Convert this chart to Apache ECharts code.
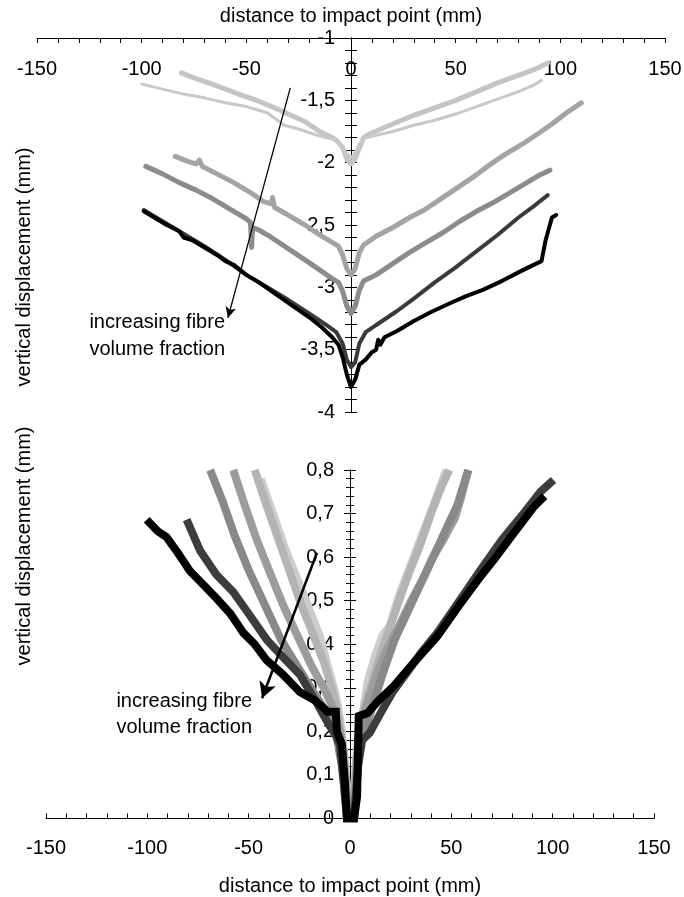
<!DOCTYPE html>
<html>
<head>
<meta charset="utf-8">
<script src="https://cdn.jsdelivr.net/npm/echarts@6/dist/echarts.min.js"></script>
<style>
  html, body { margin: 0; padding: 0; background: #fff; }
  #chart { width: 684px; height: 897px; }
</style>
</head>
<body>
<div id="chart"></div>
<script>
// top panel: vertical displacement (negative), [distance, displacement]
var topLight = [[-81,-1.28],[-75,-1.32],[-68,-1.36],[-60,-1.41],[-52,-1.46],[-45,-1.50],[-38,-1.55],[-30,-1.61],[-22,-1.67],[-15,-1.75],[-10,-1.79],[-7,-1.82],[-4,-1.88],[-2,-1.97],[0,-2.01],[2,-1.97],[4,-1.88],[6,-1.80],[10,-1.76],[20,-1.69],[30,-1.62],[40,-1.56],[50,-1.50],[60,-1.43],[70,-1.36],[80,-1.30],[88,-1.25],[94,-1.20]];
var topLightThin = [[-100,-1.37],[-90,-1.41],[-80,-1.45],[-70,-1.48],[-60,-1.52],[-50,-1.55],[-40,-1.60],[-32,-1.70],[-25,-1.73],[-18,-1.77],[-12,-1.80],[-8,-1.81],[-5,-1.86],[-2,-1.93],[0,-1.96],[2,-1.92],[4,-1.85],[7,-1.80],[12,-1.78],[20,-1.75],[30,-1.70],[40,-1.66],[50,-1.61],[60,-1.55],[70,-1.49],[80,-1.43],[87,-1.38],[91,-1.34]];
var topMid1 = [[-84,-1.95],[-78,-1.99],[-74,-2.01],[-72.5,-1.98],[-71,-2.03],[-64,-2.09],[-56,-2.16],[-48,-2.24],[-42,-2.31],[-38,-2.33],[-37.5,-2.28],[-36.5,-2.36],[-30,-2.42],[-22,-2.50],[-15,-2.58],[-10,-2.63],[-6,-2.67],[-4,-2.74],[-2,-2.85],[0,-2.90],[2,-2.85],[4,-2.72],[6,-2.66],[12,-2.59],[20,-2.52],[28,-2.44],[35,-2.38],[42,-2.30],[50,-2.21],[58,-2.12],[66,-2.02],[74,-1.93],[82,-1.85],[90,-1.76],[96,-1.69],[103,-1.60],[110,-1.52]];
var topMid2 = [[-98,-2.03],[-90,-2.09],[-82,-2.16],[-74,-2.22],[-66,-2.29],[-58,-2.37],[-50,-2.45],[-48,-2.48],[-47.5,-2.68],[-47,-2.52],[-44,-2.54],[-38,-2.60],[-30,-2.69],[-22,-2.78],[-15,-2.86],[-9,-2.93],[-6,-2.96],[-4,-3.03],[-2,-3.15],[0,-3.21],[2,-3.15],[4,-3.02],[6,-2.95],[12,-2.90],[20,-2.81],[28,-2.72],[36,-2.64],[44,-2.56],[52,-2.47],[60,-2.39],[68,-2.32],[76,-2.24],[84,-2.16],[90,-2.10],[95,-2.06]];
var topDark = [[-99,-2.38],[-90,-2.47],[-80,-2.57],[-70,-2.67],[-60,-2.78],[-50,-2.90],[-40,-3.00],[-30,-3.10],[-20,-3.21],[-12,-3.30],[-7,-3.36],[-4,-3.45],[-2,-3.58],[0,-3.64],[2,-3.60],[4,-3.45],[7,-3.36],[14,-3.28],[22,-3.19],[30,-3.09],[40,-2.96],[50,-2.84],[60,-2.71],[70,-2.58],[80,-2.44],[88,-2.34],[94,-2.26]];
var topBlack = [[-99,-2.39],[-94,-2.44],[-88,-2.50],[-82,-2.55],[-80,-2.60],[-76,-2.62],[-70,-2.68],[-64,-2.74],[-60,-2.79],[-56,-2.82],[-50,-2.90],[-44,-2.96],[-38,-3.03],[-32,-3.10],[-26,-3.17],[-20,-3.24],[-14,-3.32],[-9,-3.40],[-6,-3.46],[-4,-3.56],[-2,-3.70],[0,-3.80],[2,-3.74],[4,-3.62],[7,-3.58],[10,-3.52],[12,-3.50],[13,-3.42],[14,-3.46],[16,-3.40],[22,-3.35],[30,-3.27],[38,-3.20],[47,-3.13],[55,-3.07],[63,-3.02],[72,-2.95],[80,-2.88],[86,-2.83],[91,-2.79],[93,-2.62],[95,-2.50],[96,-2.44],[98,-2.42]];

// bottom panel: vertical displacement (positive)
var botLightest = [[-44,0.78],[-38,0.70],[-32,0.62],[-26,0.55],[-20,0.48],[-15,0.42],[-11,0.35],[-8,0.30],[-6,0.26],[-4,0.20],[-2,0.10],[-1,0],[1,0],[2.5,0.10],[4,0.20],[6.5,0.25],[9,0.32],[12.9,0.38],[16,0.42],[19.4,0.44],[24,0.51],[29,0.57],[33,0.62],[36.7,0.665],[42,0.73],[47.5,0.80]];
var botLight = [[-47,0.80],[-42,0.73],[-36,0.65],[-30,0.57],[-24,0.49],[-18,0.42],[-13,0.36],[-9,0.30],[-6,0.24],[-3,0.15],[-1,0.03],[1.5,0],[3,0.12],[5,0.22],[10,0.30],[16,0.39],[22,0.47],[28,0.55],[34,0.62],[40,0.70],[45,0.76],[49,0.80]];
var botMid = [[-57.6,0.80],[-52,0.72],[-46,0.64],[-40,0.57],[-33,0.49],[-26,0.42],[-19,0.35],[-13,0.30],[-8,0.25],[-5,0.20],[-3,0.12],[-1,0.03],[2,0.03],[4.3,0.19],[8.6,0.265],[13,0.33],[17.3,0.38],[24,0.44],[30.2,0.50],[36,0.55],[41,0.60],[46,0.64],[51.8,0.69],[55,0.74],[58.3,0.80]];
var botMid2 = [[-69,0.80],[-63,0.73],[-57,0.65],[-50,0.57],[-42,0.49],[-34,0.41],[-26,0.35],[-18,0.29],[-11,0.24],[-7,0.20],[-4,0.12],[-2,0.03],[2.5,0.03],[5,0.18],[10,0.24],[16,0.33],[22,0.41],[28,0.47],[35,0.54],[42,0.61],[48,0.67],[53,0.72],[57,0.78],[58.5,0.80]];
var botDark = [[-80.6,0.686],[-74,0.615],[-66,0.56],[-57.6,0.52],[-50,0.47],[-41,0.41],[-33,0.37],[-24.7,0.33],[-17,0.27],[-11,0.22],[-7,0.19],[-5,0.17],[-3,0.08],[-1.5,0],[2,0],[4,0.12],[6,0.18],[9.7,0.196],[15.1,0.242],[21,0.29],[28.1,0.335],[35,0.38],[43.2,0.427],[54,0.50],[64.8,0.573],[75,0.64],[86.3,0.704],[94,0.75],[100.4,0.777]];
var botBlack = [[-100.3,0.686],[-95,0.66],[-90.5,0.646],[-85,0.61],[-79,0.568],[-72,0.535],[-65.8,0.505],[-59,0.47],[-52.6,0.426],[-47,0.40],[-41.1,0.363],[-33,0.33],[-24.7,0.29],[-17,0.27],[-11,0.245],[-7,0.245],[-6.5,0.20],[-4,0.17],[-2.5,0.08],[-1.5,0],[2,0],[3.5,0.05],[4.3,0.235],[8.6,0.242],[14,0.27],[21.6,0.304],[30,0.35],[43.2,0.419],[54,0.49],[64.8,0.558],[72,0.60],[80,0.65],[90.6,0.715],[96,0.74]];

var topSeries = [
  { name: 'top1', data: topLight, color: '#c4c4c4', width: 5 },
  { name: 'top2', data: topLightThin, color: '#c8c8c8', width: 3 },
  { name: 'top3', data: topMid1, color: '#a4a4a4', width: 5 },
  { name: 'top4', data: topMid2, color: '#8c8c8c', width: 5 },
  { name: 'top5', data: topDark, color: '#3a3a3a', width: 4 },
  { name: 'top6', data: topBlack, color: '#000000', width: 4 }
];
var botSeries = [
  { name: 'bot1', data: botLightest, color: '#cccccc', width: 8 },
  { name: 'bot2', data: botLight, color: '#b4b4b4', width: 8 },
  { name: 'bot3', data: botMid, color: '#9c9c9c', width: 8 },
  { name: 'bot4', data: botMid2, color: '#898989', width: 8 },
  { name: 'bot5', data: botDark, color: '#3c3c3c', width: 8 },
  { name: 'bot6', data: botBlack, color: '#000000', width: 8 }
];

// arrows "increasing fibre volume fraction"
var topArrow = [[-29, -1.40], [-58.8, -3.245]];
var botArrow = [[-16.3, 0.61], [-43.4, 0.276]];

var FONT = "'Liberation Sans', Arial, sans-serif";
var chart = echarts.init(document.getElementById('chart'), null, { renderer: 'canvas' });

function comma(v) { return String(v).replace('.', ','); }

var axisLineStyle = { color: '#000', width: 1 };

function xAxisCfg(grid, pos, labelInside, margin, name, nameGap) {
  return {
    type: 'value', gridIndex: grid, position: pos, min: -150, max: 150, interval: 50,
    name: name, nameLocation: 'middle', nameGap: nameGap,
    nameTextStyle: { color: '#000', fontSize: 20, fontFamily: FONT },
    axisLine: { show: true, onZero: false, lineStyle: axisLineStyle },
    axisTick: { show: true, inside: true, length: 5, lineStyle: axisLineStyle },
    minorTick: { show: true, splitNumber: 5, length: 5, lineStyle: axisLineStyle },
    axisLabel: { show: true, inside: labelInside, margin: margin, color: '#000', fontSize: 20, fontFamily: FONT },
    splitLine: { show: false }, minorSplitLine: { show: false }
  };
}
// y axes sit at distance 0, moved there with a negative offset
function yAxisCfg(grid, offset, min, max, interval, withLabels, inside) {
  return {
    type: 'value', gridIndex: grid, position: 'left', offset: offset, min: min, max: max, interval: interval,
    axisLine: { show: true, onZero: false, lineStyle: axisLineStyle },
    axisTick: { show: true, inside: inside, length: 6, lineStyle: axisLineStyle },
    minorTick: { show: true, splitNumber: 5, length: grid === 0 ? 6 : 4, lineStyle: axisLineStyle },
    axisLabel: { show: withLabels, margin: 16, color: '#000', fontSize: 20, fontFamily: FONT, formatter: comma },
    splitLine: { show: false }, minorSplitLine: { show: false }
  };
}

function arrowLine(coords, size, width) {
  return {
    silent: true, symbol: ['none', 'arrow'], symbolSize: size,
    label: { show: false },
    lineStyle: { color: '#000', width: width, type: 'solid' },
    emphasis: { disabled: true },
    data: [[{ coord: coords[0] }, { coord: coords[1] }]]
  };
}

var series = [];
topSeries.forEach(function (s, i) {
  var o = {
    name: s.name, type: 'line', xAxisIndex: 0, yAxisIndex: 0, data: s.data,
    showSymbol: false, symbol: 'none', clip: true, silent: true,
    lineStyle: { color: s.color, width: s.width, join: 'round', cap: 'round' }
  };
  if (i === topSeries.length - 1) o.markLine = arrowLine(topArrow, [8, 11], 1.3);
  series.push(o);
});
botSeries.forEach(function (s, i) {
  var o = {
    name: s.name, type: 'line', xAxisIndex: 1, yAxisIndex: 2, data: s.data,
    showSymbol: false, symbol: 'none', clip: true, silent: true,
    lineStyle: { color: s.color, width: s.width, join: 'miter', cap: 'butt' }
  };
  if (i === botSeries.length - 1) o.markLine = arrowLine(botArrow, [13, 16], 2.5);
  series.push(o);
});

chart.setOption({
  animation: false,
  backgroundColor: '#fff',
  textStyle: { fontFamily: FONT },
  grid: [
    { left: 37, right: 19, top: 38, bottom: 485, containLabel: false, outerBoundsMode: 'none' },
    { left: 46, right: 30, top: 470, bottom: 78.5, containLabel: false, outerBoundsMode: 'none' }
  ],
  xAxis: [
    xAxisCfg(0, 'top', true, 21, 'distance to impact point (mm)', 12),
    xAxisCfg(1, 'bottom', false, 20, 'distance to impact point (mm)', 58)
  ],
  yAxis: [
    yAxisCfg(0, -314, -4, -1, 0.5, true, false),
    yAxisCfg(0, -314, -4, -1, 0.5, false, true),
    yAxisCfg(1, -304, 0, 0.8, 0.1, true, false),
    yAxisCfg(1, -304, 0, 0.8, 0.1, false, true)
  ],
  graphic: [
    { type: 'text', x: 24, y: 267, rotation: Math.PI / 2, silent: true,
      style: { text: 'vertical displacement (mm)', fill: '#000', font: '20px ' + FONT, textAlign: 'center', textVerticalAlign: 'middle' } },
    { type: 'text', x: 24, y: 546, rotation: Math.PI / 2, silent: true,
      style: { text: 'vertical displacement (mm)', fill: '#000', font: '20px ' + FONT, textAlign: 'center', textVerticalAlign: 'middle' } },
    { type: 'text', x: 225, y: 336, silent: true,
      style: { text: 'increasing fibre\nvolume fraction', fill: '#000', font: '20px ' + FONT, lineHeight: 27, textAlign: 'right', textVerticalAlign: 'middle' } },
    { type: 'text', x: 252, y: 714, silent: true,
      style: { text: 'increasing fibre\nvolume fraction', fill: '#000', font: '20px ' + FONT, lineHeight: 26, textAlign: 'right', textVerticalAlign: 'middle' } }
  ],
  series: series
});
</script>
</body>
</html>
